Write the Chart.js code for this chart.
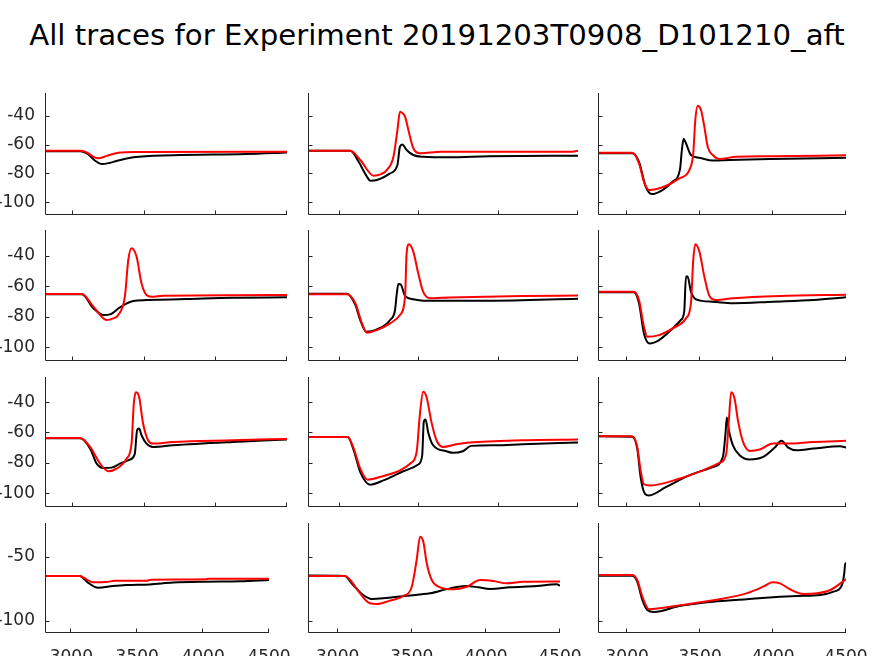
<!DOCTYPE html>
<html>
<head>
<meta charset="utf-8">
<script src="https://cdn.jsdelivr.net/npm/chart.js@4.4.1/dist/chart.umd.min.js"></script>
<style>
  body { margin: 0; background: #fff; }
  #page { position: relative; width: 874px; height: 656px; overflow: hidden; background: #fff; }
  #title { position: absolute; left: 0; top: 21px; width: 874px; text-align: center;
           font: 29.2px "DejaVu Sans", sans-serif; color: #000; line-height: 1; white-space: nowrap; }
  canvas { position: absolute; }
</style>
</head>
<body>
<div id="page">
  <div id="title">All traces for Experiment 20191203T0908_D101210_aft</div>
</div>
<script>
// ticks / limits
const xTicks = [3000, 3500, 4000, 4500];
const yTicksTall = [-100, -80, -60, -40];
const yTicksShort = [-100, -50];
const xLimits = [2800, 4500];
const yLimits = [[-109, -24], [-109, -23], [-109, -23.5], [-109.4, -23.4]];

// traces, [time, mV]
const black1 = [[2800,-64.5],[3050,-64.5],[3100,-66.5],[3150,-71],[3200,-73.5],[3250,-72.8],[3303,-71.4],[3420,-68.8],[3700,-67.4],[4210,-66.5],[4500,-65.4]];
const red1 = [[2800,-64.2],[3050,-64.2],[3100,-65.8],[3140,-68.5],[3175,-69.5],[3230,-68],[3315,-65.6],[3450,-65.1],[4500,-64.9]];

const black2 = [[2800,-64.2],[3067,-64.2],[3119,-71.9],[3171,-82.3],[3192,-85.1],[3234,-84.6],[3317,-80],[3363,-74.2],[3379,-61.4],[3394,-59.8],[3421,-63.7],[3463,-67.2],[3525,-68.4],[3692,-68.8],[3942,-68],[4500,-67.7]];
const red2 = [[2800,-64.2],[3067,-64.2],[3129,-70.7],[3213,-81.6],[3260,-80.5],[3296,-77.7],[3338,-68.4],[3363,-49.8],[3379,-37],[3395,-38],[3411,-40.5],[3432,-49.8],[3463,-62.5],[3504,-66],[3640,-64.9],[4450,-64.9],[4500,-64.3]];

const black3 = [[2800,-66],[3035,-66],[3081,-71.9],[3127,-89.3],[3168,-94.4],[3242,-91.6],[3311,-85.8],[3362,-77.2],[3375,-63.7],[3387,-55.8],[3403,-59],[3437,-67.2],[3495,-69.1],[3587,-71.1],[3702,-70.7],[3978,-70],[4500,-69.1]];
const red3 = [[2800,-65.6],[3035,-65.6],[3081,-73],[3115,-85.8],[3150,-91.6],[3265,-88.8],[3357,-83.5],[3426,-77.7],[3453,-66],[3467,-42.8],[3483,-32.8],[3506,-35.8],[3529,-47.5],[3552,-61.4],[3587,-67.2],[3633,-70],[3748,-68.4],[3978,-68.1],[4500,-67.4]];

const black4 = [[2800,-65.2],[3059,-65.2],[3140,-74.4],[3210,-78.8],[3257,-78.4],[3326,-73.8],[3419,-69.6],[3513,-69],[3793,-68.3],[4118,-67.4],[4500,-67.2]];
const red4 = [[2800,-65],[3059,-65],[3140,-73.3],[3233,-82.1],[3280,-81],[3315,-78.8],[3361,-66.8],[3385,-42.6],[3408,-34.9],[3443,-40.4],[3478,-58],[3513,-65.7],[3548,-66.8],[3629,-66.1],[4150,-65.9],[4500,-65.6]];

const black5 = [[2800,-64.8],[3046,-64.8],[3098,-72.2],[3129,-82.1],[3167,-89.8],[3234,-88.2],[3317,-82.1],[3348,-75.5],[3358,-65.7],[3369,-58.4],[3384,-58.8],[3411,-66.3],[3463,-68.5],[3525,-69.4],[3942,-69.4],[4500,-68.1]];
const red5 = [[2800,-65.2],[3046,-65.2],[3098,-71.1],[3140,-84.3],[3171,-90.4],[3234,-88.7],[3317,-84.3],[3379,-78.8],[3411,-66.8],[3421,-38.2],[3436,-32.3],[3463,-37.2],[3494,-51.4],[3525,-63.5],[3567,-67.8],[3692,-67.3],[4150,-66.3],[4500,-66]];

const black6 = [[2800,-63.9],[3046,-63.9],[3081,-71.1],[3115,-90.9],[3154,-97.5],[3219,-95.3],[3288,-89.8],[3368,-82.1],[3391,-76.6],[3403,-53.6],[3414,-53.6],[3437,-63.5],[3472,-68.5],[3587,-70.1],[3725,-71.1],[4000,-70.1],[4277,-69],[4500,-67.2]];
const red6 = [[2800,-63.5],[3046,-63.5],[3081,-69],[3115,-86.5],[3138,-93.1],[3219,-92],[3311,-87.6],[3403,-81],[3437,-71.1],[3453,-42.6],[3467,-32.3],[3495,-37.2],[3529,-53.6],[3564,-66.3],[3610,-69],[3725,-67.8],[4047,-66.3],[4500,-65.5]];

const black7 = [[2800,-63.8],[3047,-63.8],[3117,-70.6],[3163,-80.5],[3210,-83.3],[3268,-83.1],[3326,-80.5],[3396,-77.8],[3431,-73.9],[3447,-58.5],[3461,-57.4],[3478,-61.8],[3513,-67.3],[3559,-69.5],[3699,-68.4],[4118,-66.2],[4500,-64.6]];
const red7 = [[2800,-63.6],[3047,-63.6],[3117,-69.5],[3187,-80.5],[3245,-85.5],[3303,-83.8],[3373,-77.2],[3408,-67.3],[3424,-40.9],[3438,-33.6],[3461,-36.5],[3489,-54.1],[3524,-65.1],[3559,-67.3],[3699,-66.2],[4118,-65.1],[4500,-64.2]];

const black8 = [[2800,-62.9],[3050,-62.9],[3088,-71.7],[3129,-86],[3192,-94.3],[3275,-91.5],[3400,-85.5],[3494,-81.1],[3519,-75],[3529,-53],[3540,-51.4],[3556,-59.6],[3588,-68.4],[3671,-72.3],[3713,-73.4],[3775,-72.3],[3827,-68.8],[3984,-68.4],[4150,-67.7],[4500,-66.6]];
const red8 = [[2800,-62.9],[3050,-62.9],[3088,-70.6],[3129,-83.8],[3175,-91],[3275,-88.6],[3379,-84.9],[3442,-80.5],[3484,-72.8],[3504,-48.6],[3525,-33.2],[3546,-36.5],[3577,-53],[3609,-65.1],[3650,-69.5],[3734,-67.7],[3817,-66.6],[4150,-65.1],[4500,-64.6]];

const black9 = [[2800,-62.4],[3035,-62.8],[3069,-70.6],[3092,-89.3],[3122,-100.3],[3150,-101.4],[3265,-95.9],[3426,-88.2],[3587,-82.7],[3656,-76.1],[3674,-60.7],[3683,-50.1],[3697,-58.5],[3725,-68.4],[3771,-75],[3840,-77.8],[3932,-76.1],[4012,-69.9],[4058,-65.5],[4104,-69.9],[4162,-71.7],[4277,-70.6],[4460,-69],[4500,-69.9]];
const red9 = [[2800,-62.4],[3035,-62.4],[3069,-69.5],[3092,-84.9],[3115,-94.1],[3161,-94.8],[3357,-90.4],[3518,-84.9],[3633,-80],[3679,-73.9],[3697,-51.9],[3713,-33.6],[3736,-37.6],[3759,-51.9],[3794,-66.2],[3840,-72.1],[3909,-71.2],[4000,-67.3],[4093,-67.3],[4277,-66.2],[4500,-65.5]];

const black10 = [[2800,-64.8],[3063,-64.8],[3126,-70],[3202,-74],[3316,-72.7],[3418,-71.9],[3595,-71.4],[3772,-70],[4026,-69.3],[4279,-69],[4500,-68]];
const red10 = [[2800,-64.8],[3063,-64.8],[3114,-67.4],[3164,-69.8],[3266,-69.6],[3329,-68.5],[3570,-68.5],[3608,-67.7],[4026,-67.4],[4040,-67],[4500,-67]];

const black11 = [[2800,-64.5],[3049,-64.8],[3094,-70.6],[3173,-79.7],[3229,-82.8],[3308,-82.3],[3466,-80.2],[3623,-78.4],[3758,-74.5],[3871,-72.7],[3949,-73.7],[4028,-75],[4163,-73.7],[4343,-72.7],[4478,-71.3],[4500,-72.3]];
const red11 = [[2800,-64.8],[3049,-64.8],[3094,-69.3],[3151,-78.4],[3218,-86.2],[3263,-86.7],[3353,-84.1],[3443,-80.5],[3500,-73.2],[3533,-52.3],[3556,-34.1],[3578,-38],[3601,-54.9],[3635,-68],[3691,-73.7],[3780,-75.2],[3871,-73.2],[3961,-68],[4050,-68.8],[4141,-70.6],[4253,-69.3],[4500,-69.1]];

const black12 = [[2800,-64.6],[3035,-64.6],[3069,-69.3],[3104,-83.6],[3138,-91.4],[3184,-93],[3357,-88.3],[3587,-84.9],[3817,-83],[4000,-81.5],[4162,-80.5],[4323,-79.7],[4415,-77.1],[4472,-71.9],[4488,-62.8],[4495,-54.9],[4500,-54.9]];
const red12 = [[2800,-64.1],[3035,-64.1],[3069,-68],[3104,-81],[3150,-90.8],[3219,-90.1],[3426,-86.7],[3633,-83],[3817,-78.4],[3932,-73.2],[3996,-69.8],[4047,-70.6],[4116,-75.2],[4208,-78.9],[4300,-78.4],[4392,-75.8],[4500,-67.4]];

const traces = [
  [black1, red1], [black2, red2], [black3, red3],
  [black4, red4], [black5, red5], [black6, red6],
  [black7, red7], [black8, red8], [black9, red9],
  [black10, red10], [black11, red11], [black12, red12],
];

// axes boxes in page pixels (left, right) per column and (top, bottom) per row
const rowBoxes = [[93, 215], [230, 361], [377, 507], [523, 633]];
const colBoxes = [[45, 287], [308, 578], [598, 846]];
const colBoxesLast = [[45, 269], [308, 560], [598, 846]];

const AXIS = '#262626';
const FONT = { family: '"DejaVu Sans", sans-serif', size: 17 };

const matlabAxes = {
  id: 'matlabAxes',
  afterDraw(chart) {
    const { ctx, chartArea: a, scales: { x, y } } = chart;
    const tl = 4;
    ctx.save();
    ctx.strokeStyle = AXIS;
    ctx.lineWidth = 1;
    ctx.beginPath();
    const L = Math.round(a.left) + 0.5, B = Math.round(a.bottom) - 0.5;
    ctx.moveTo(L, Math.round(a.top));
    ctx.lineTo(L, B);
    ctx.lineTo(Math.round(a.right), B);
    x.ticks.forEach(t => {
      const px = Math.round(x.getPixelForValue(t.value)) - 0.5;
      ctx.moveTo(px, B); ctx.lineTo(px, B - tl);
    });
    y.ticks.forEach(t => {
      const py = Math.round(y.getPixelForValue(t.value)) + 0.5;
      ctx.moveTo(L, py); ctx.lineTo(L + tl, py);
    });
    ctx.stroke();
    ctx.restore();
  }
};

const page = document.getElementById('page');

traces.forEach(([black, red], i) => {
  const row = Math.floor(i / 3), col = i % 3;
  const last = row === 3;
  const [bl, br] = (last ? colBoxesLast : colBoxes)[col];
  const [bt, bb] = rowBoxes[row];
  const padL = col === 0 ? 45 : 4;
  const padR = last ? 27 : 4;
  const padT = 4;
  const padB = last ? 656 - bb : 4;

  const canvas = document.createElement('canvas');
  canvas.width = br - bl + padL + padR;
  canvas.height = bb - bt + padT + padB;
  canvas.style.left = (bl - padL) + 'px';
  canvas.style.top = (bt - padT) + 'px';
  page.appendChild(canvas);

  const yTicks = last ? yTicksShort : yTicksTall;
  const toXY = pts => pts.map(([x, y]) => ({ x, y }));

  new Chart(canvas, {
    type: 'line',
    data: {
      datasets: [
        { data: toXY(red), borderColor: '#ff0000', borderWidth: 2, order: 0 },
        { data: toXY(black), borderColor: '#000000', borderWidth: 2, order: 1 },
      ]
    },
    options: {
      responsive: false,
      animation: false,
      devicePixelRatio: 1,
      layout: { padding: { top: padT, right: padR, left: 0, bottom: 0 } },
      elements: { point: { radius: 0 }, line: { cubicInterpolationMode: 'monotone', borderCapStyle: 'round', borderJoinStyle: 'round' } },
      plugins: { legend: { display: false }, tooltip: { enabled: false } },
      scales: {
        x: {
          type: 'linear', min: xLimits[0], max: xLimits[1],
          afterBuildTicks: s => { s.ticks = xTicks.map(v => ({ value: v })); },
          afterFit: s => { s.height = padB; s.paddingLeft = 0; s.paddingRight = 0; s.paddingTop = 0; s.paddingBottom = 0; },
          grid: { display: false, drawTicks: false, tickLength: 0 },
          border: { display: false },
          ticks: { display: last, color: AXIS, font: FONT, padding: 14, maxRotation: 0, autoSkip: false,
                   callback: v => String(v) },
        },
        y: {
          type: 'linear', min: yLimits[row][0], max: yLimits[row][1],
          afterBuildTicks: s => { s.ticks = yTicks.map(v => ({ value: v })); },
          afterFit: s => { s.width = padL; s.paddingLeft = 0; s.paddingRight = 0; s.paddingTop = 0; s.paddingBottom = 0; },
          grid: { display: false, drawTicks: false, tickLength: 0 },
          border: { display: false },
          ticks: { display: col === 0, color: AXIS, font: FONT, padding: 10, autoSkip: false,
                   callback: v => String(v) },
        }
      }
    },
    plugins: [matlabAxes]
  });
});
</script>
</body>
</html>
